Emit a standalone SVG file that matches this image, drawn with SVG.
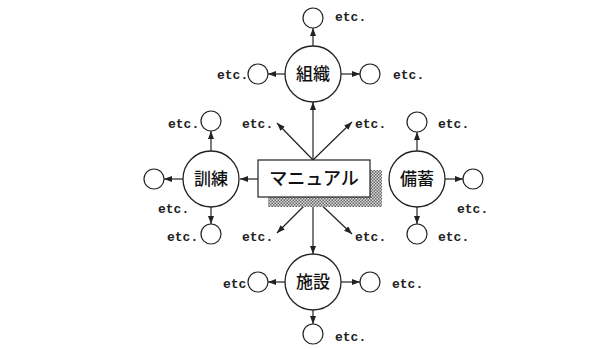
<svg xmlns="http://www.w3.org/2000/svg" width="595" height="349" viewBox="0 0 595 349">
<defs>
<marker id="ah" markerWidth="8" markerHeight="6" refX="8" refY="3" orient="auto" markerUnits="userSpaceOnUse">
<path d="M0,0 L8,3 L0,6 z" fill="#222"/>
</marker>
<pattern id="hatch" width="3" height="3" patternUnits="userSpaceOnUse">
<rect width="3" height="3" fill="#ddd"/>
<rect width="1.5" height="1.5" fill="#666"/>
<rect x="1.5" y="1.5" width="1.5" height="1.5" fill="#666"/>
</pattern>
<style>
.c{fill:#fff;stroke:#222;stroke-width:1.3}
.s{fill:#fff;stroke:#222;stroke-width:1.2}
.l{stroke:#222;stroke-width:1.2;fill:none;marker-end:url(#ah)}
.e{font-family:"Liberation Mono",monospace;font-size:13px;font-weight:bold;fill:#222}
.j{font-family:"Noto Sans CJK JP",sans-serif;font-size:17px;font-weight:500;fill:#111;text-anchor:middle}
</style>
</defs>
<rect width="595" height="349" fill="#fff"/>
<g id="connectors">
<line class="l" x1="313" y1="160" x2="313" y2="102"/>
<line class="l" x1="258" y1="179" x2="240" y2="179"/>
<line class="l" x1="313" y1="197" x2="313" y2="254"/>
<line class="l" x1="313" y1="160" x2="277" y2="123"/>
<line class="l" x1="313" y1="160" x2="352" y2="122"/>
<line class="l" x1="313" y1="197" x2="277" y2="233"/>
<line class="l" x1="313" y1="197" x2="352" y2="234"/>
<line class="l" x1="313" y1="46" x2="313" y2="28"/>
<line class="l" x1="285" y1="74" x2="268" y2="74"/>
<line class="l" x1="341" y1="74" x2="360" y2="74"/>
<line class="l" x1="211" y1="151" x2="211" y2="131"/>
<line class="l" x1="183" y1="179" x2="164" y2="179"/>
<line class="l" x1="211" y1="207" x2="211" y2="224"/>
<line class="l" x1="417" y1="151" x2="417" y2="132"/>
<line class="l" x1="445" y1="179" x2="463" y2="179"/>
<line class="l" x1="417" y1="207" x2="417" y2="224"/>
<line class="l" x1="285" y1="282" x2="268" y2="282"/>
<line class="l" x1="341" y1="282" x2="360" y2="282"/>
<line class="l" x1="313" y1="310" x2="313" y2="324"/>
</g>
<g id="manual">
<path d="M370,170 H382 V207 H268 V197 H370 Z" fill="url(#hatch)"/>
<rect x="258" y="160" width="112" height="37" class="s"/>
<text x="314" y="185" class="j" style="font-size:18px">マニュアル</text>
</g>
<g id="soshiki">
<circle cx="313" cy="74" r="28" class="c"/>
<text x="313" y="80" class="j">組織</text>
</g>
<g id="kunren">
<circle cx="211" cy="179" r="28" class="c"/>
<text x="211" y="185" class="j">訓練</text>
</g>
<g id="bichiku">
<circle cx="417" cy="179" r="28" class="c"/>
<text x="417" y="185" class="j">備蓄</text>
</g>
<g id="shisetsu">
<circle cx="313" cy="282" r="28" class="c"/>
<text x="313" y="288" class="j">施設</text>
</g>
<g id="etc-labels">
<text x="335" y="21" class="e">etc.</text>
<text x="217" y="79" class="e">etc.</text>
<text x="393" y="79" class="e">etc.</text>
<text x="242" y="128" class="e">etc.</text>
<text x="355" y="128" class="e">etc.</text>
<text x="168" y="128" class="e">etc.</text>
<text x="158" y="213" class="e">etc.</text>
<text x="167" y="241" class="e">etc.</text>
<text x="438" y="128" class="e">etc.</text>
<text x="457" y="213" class="e">etc.</text>
<text x="438" y="241" class="e">etc.</text>
<text x="242" y="241" class="e">etc.</text>
<text x="355" y="241" class="e">etc.</text>
<text x="223" y="288" class="e">etc.</text>
<text x="392" y="288" class="e">etc.</text>
<text x="335" y="341" class="e">etc.</text>
</g>
<g id="small-nodes">
<circle id="n-s-top" cx="313" cy="18" r="10" class="s"/>
<circle id="n-s-left" cx="258" cy="74" r="10" class="s"/>
<circle id="n-s-right" cx="370" cy="74" r="10" class="s"/>
<circle id="n-k-top" cx="211" cy="121" r="10" class="s"/>
<circle id="n-k-left" cx="154" cy="179" r="10" class="s"/>
<circle id="n-k-bottom" cx="211" cy="234" r="10" class="s"/>
<circle id="n-b-top" cx="417" cy="122" r="10" class="s"/>
<circle id="n-b-right" cx="473" cy="179" r="10" class="s"/>
<circle id="n-b-bottom" cx="417" cy="234" r="10" class="s"/>
<circle id="n-h-left" cx="258" cy="282" r="10" class="s"/>
<circle id="n-h-right" cx="370" cy="282" r="10" class="s"/>
<circle id="n-h-bottom" cx="313" cy="334" r="10" class="s"/>
</g>
</svg>
